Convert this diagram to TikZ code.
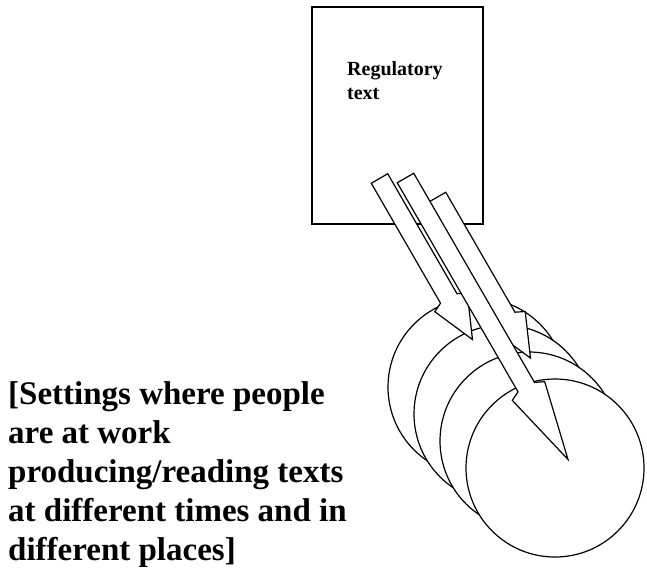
\documentclass[tikz,border=0pt]{standalone}
\usepackage{fontspec}
\setmainfont{Liberation Serif}
\newcommand{\BlockArr}[5]{% name, x, y, length, head length
  \draw[outline, shift={(#2,#3)}, rotate=-60]
    (0,-9.5) coordinate (#1-tail) -- ({#4-#5-4.5},-9.5) -- ({#4-#5},-18.7)
    -- (#4,0) coordinate (#1-tip) -- ({#4-#5},18.7) -- ({#4-#5-4.5},9.5) -- (0,9.5) -- cycle;}
\begin{document}
\begin{tikzpicture}[x=1pt,y=-1pt,
  outline/.style={draw=black, fill=white, line width=1.2pt, line join=miter},
  bigtext/.style={anchor=base west, inner sep=0pt, font=\bfseries\fontsize{33}{38.5}\selectfont},
  smalltext/.style={anchor=base west, inner sep=0pt, font=\bfseries\fontsize{20}{24}\selectfont}]
\useasboundingbox (0,0) rectangle (647,568);

% regulatory text document
\draw[outline] (312,7) rectangle (483,224);
\coordinate (doc) at (397.5,115.5);
\node[smalltext] (reg1) at (347,75) {Regulatory};
\node[smalltext] (reg2) at (347,99) {text};

% settings (circles, back to front)
\draw[outline] (477,387) circle[radius=89pt];
\draw[outline] (503,414) circle[radius=89pt];
\draw[outline] (529,441) circle[radius=89pt];
\draw[outline] (555,468) circle[radius=89pt];

% arrows
\BlockArr{arrA}{379.5}{178.5}{186}{43}
\BlockArr{arrC}{437.5}{197}{186}{43}
\BlockArr{arrB}{405.5}{178}{325}{79}

% caption
\node[bigtext] (t1) at (8,404) {[Settings where people};
\node[bigtext] (t2) at (8,443) {are at work};
\node[bigtext] (t3) at (8,482) {producing/reading texts};
\node[bigtext] (t4) at (8,521) {at different times and in};
\node[bigtext] (t5) at (8,560) {different places]};
\end{tikzpicture}
\end{document}
